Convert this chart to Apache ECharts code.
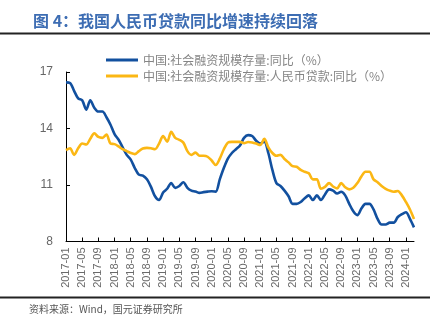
<!DOCTYPE html>
<html>
<head>
<meta charset="utf-8">
<script src="https://cdn.jsdelivr.net/npm/echarts@6/dist/echarts.min.js"></script>
<style>
html,body{margin:0;padding:0;background:#fff;}
#c{width:442px;height:329px;}
</style>
</head>
<body>
<div id="c"></div>
<script>
var categories = [
 '2017-01','2017-02','2017-03','2017-04','2017-05','2017-06','2017-07','2017-08','2017-09','2017-10','2017-11','2017-12',
 '2018-01','2018-02','2018-03','2018-04','2018-05','2018-06','2018-07','2018-08','2018-09','2018-10','2018-11','2018-12',
 '2019-01','2019-02','2019-03','2019-04','2019-05','2019-06','2019-07','2019-08','2019-09','2019-10','2019-11','2019-12',
 '2020-01','2020-02','2020-03','2020-04','2020-05','2020-06','2020-07','2020-08','2020-09','2020-10','2020-11','2020-12',
 '2021-01','2021-02','2021-03','2021-04','2021-05','2021-06','2021-07','2021-08','2021-09','2021-10','2021-11','2021-12',
 '2022-01','2022-02','2022-03','2022-04','2022-05','2022-06','2022-07','2022-08','2022-09','2022-10','2022-11','2022-12',
 '2023-01','2023-02','2023-03','2023-04','2023-05','2023-06','2023-07','2023-08','2023-09','2023-10','2023-11','2023-12',
 '2024-01','2024-02','2024-03'
];
var tsfStock = [
 16.45,16.42,16.0,15.6,15.5,15.0,15.5,15.1,14.9,14.9,14.6,14.2,
 13.7,13.4,13.0,12.6,12.35,11.9,11.55,11.5,11.3,10.9,10.4,10.2,
 10.6,10.8,11.1,10.85,10.95,11.15,10.85,10.7,10.65,10.58,10.62,10.65,
 10.67,10.65,11.3,11.9,12.4,12.7,12.9,13.1,13.5,13.65,13.6,13.35,
 13.2,13.3,12.7,11.8,11.1,10.95,10.7,10.4,10.0,10.0,10.1,10.3,
 10.45,10.2,10.45,10.2,10.5,10.77,10.7,10.55,10.64,10.45,10.0,9.6,
 9.4,9.75,10.0,10.0,9.7,9.2,8.9,8.9,9.0,9.0,9.3,9.45,
 9.55,9.2,8.75
];
var tsfLoans = [
 12.85,12.95,12.6,12.95,13.2,13.15,13.45,13.75,13.55,13.5,13.68,13.2,
 13.17,13.05,12.9,12.8,12.7,12.64,12.8,12.94,12.97,12.95,12.9,13.2,
 13.6,13.3,13.82,13.5,13.4,13.25,12.8,12.6,12.72,12.55,12.55,12.5,
 12.3,12.06,12.4,12.9,13.25,13.29,13.29,13.29,13.22,13.28,13.26,13.2,
 13.12,13.45,13.0,12.7,12.55,12.6,12.38,12.2,12.0,11.97,11.8,11.7,
 11.62,11.3,11.3,10.8,10.9,11.1,10.92,10.82,11.1,10.88,10.77,10.85,
 11.1,11.45,11.7,11.7,11.3,11.15,10.95,10.8,10.7,10.64,10.68,10.45,
 10.1,9.7,9.2
];
var seriesNames = ['中国:社会融资规模存量:同比（%）','中国:社会融资规模存量:人民币贷款:同比（%）'];
var yTicks = {min: 8, max: 17, interval: 3};
var titleText = '图 4：我国人民币贷款同比增速持续回落';
var sourceText = '资料来源：Wind，国元证券研究所';

var chart = echarts.init(document.getElementById('c'), null, {renderer: 'canvas'});
var cjk = '"Noto Sans CJK SC", sans-serif';
var latin = '"Liberation Sans", Arial, sans-serif';
chart.setOption({
  animation: false,
  backgroundColor: '#fff',
  title: {
    text: titleText,
    left: 28, top: 8,
    textStyle: {color: '#3d6db3', fontSize: 16, fontWeight: 'bold', fontFamily: cjk}
  },
  graphic: [
    {type: 'line', shape: {x1: 0, y1: 33.5, x2: 430, y2: 33.5}, style: {stroke: '#222', lineWidth: 2}},
    {type: 'line', shape: {x1: 0, y1: 297.5, x2: 430, y2: 297.5}, style: {stroke: '#222', lineWidth: 2}},
    {type: 'text', left: 29, top: 304, style: {text: sourceText, fill: '#555', font: '10px ' + cjk}}
  ],
  legend: {
    orient: 'vertical',
    left: 101, top: 49,
    itemWidth: 32, itemHeight: 3, itemGap: 4,
    icon: 'rect',
    textStyle: {color: '#858585', fontSize: 12, fontFamily: cjk, padding: [0,0,0,0]},
    data: seriesNames
  },
  grid: {left: 66, right: 28, top: 72, bottom: 87.5, containLabel: false},
  xAxis: {
    type: 'category',
    data: categories,
    boundaryGap: false,
    axisLine: {lineStyle: {color: '#000', width: 1}},
    axisTick: {inside: true, length: 4, interval: 3, lineStyle: {color: '#000'}},
    axisLabel: {interval: 3, rotate: 90, margin: 6, color: '#6a6a6a', fontSize: 11, fontFamily: latin},
    splitLine: {show: false}
  },
  yAxis: {
    type: 'value',
    min: yTicks.min, max: yTicks.max, interval: yTicks.interval,
    axisLine: {show: true, lineStyle: {color: '#000', width: 1}},
    axisTick: {show: true, inside: true, length: 4, lineStyle: {color: '#000'}},
    axisLabel: {color: '#666', fontSize: 12, fontFamily: latin, margin: 13},
    splitLine: {show: false}
  },
  series: [
    {name: seriesNames[0], type: 'line', data: tsfStock, symbol: 'none', smooth: 0.3,
     lineStyle: {color: '#12509f', width: 2.6}, itemStyle: {color: '#12509f'}},
    {name: seriesNames[1], type: 'line', data: tsfLoans, symbol: 'none', smooth: 0.3,
     lineStyle: {color: '#fbb714', width: 2.6}, itemStyle: {color: '#fbb714'}}
  ]
});
</script>
</body>
</html>
